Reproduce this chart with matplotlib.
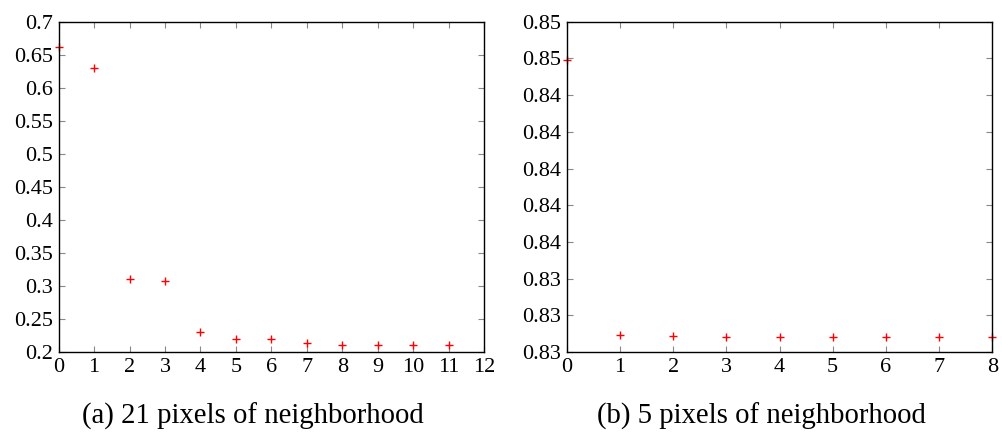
import matplotlib
matplotlib.use("Agg")
import matplotlib.pyplot as plt
from matplotlib.ticker import FixedLocator, FuncFormatter

plt.rcParams['font.family'] = 'serif'
plt.rcParams['font.serif'] = ['Liberation Serif', 'Times New Roman', 'DejaVu Serif']
plt.rcParams['mathtext.fontset'] = 'stix'

# Panel (a): 21 pixels of neighborhood
x_a = [0, 1, 2, 3, 4, 5, 6, 7, 8, 9, 10, 11]
y_a = [0.661, 0.630, 0.310, 0.308, 0.230, 0.219, 0.219, 0.213, 0.211, 0.211, 0.211, 0.211]
xticks_a = list(range(0, 13))
yticks_a = [0.2, 0.25, 0.3, 0.35, 0.4, 0.45, 0.5, 0.55, 0.6, 0.65, 0.7]
caption_a = "(a) 21 pixels of neighborhood"

# Panel (b): 5 pixels of neighborhood
x_b = [0, 1, 2, 3, 4, 5, 6, 7, 8]
y_b = [0.8459, 0.8309, 0.83086, 0.83084, 0.8308, 0.8308, 0.8308, 0.8308, 0.8308]
xticks_b = list(range(0, 9))
yticks_b = [0.830, 0.832, 0.834, 0.836, 0.838, 0.840, 0.842, 0.844, 0.846, 0.848]
caption_b = "(b) 5 pixels of neighborhood"

W, H = 1002, 434
fig = plt.figure(figsize=(W / 100, H / 100), dpi=100)

def box(l, t, r, b):
    return [l / W, 1 - b / H, (r - l) / W, (b - t) / H]

ax1 = fig.add_axes(box(58.7, 21.7, 484, 352))
ax2 = fig.add_axes(box(566.7, 21.7, 992.3, 352))

def style(ax):
    for s in ax.spines.values():
        s.set_color('black')
        s.set_linewidth(1.0)
    ax.tick_params(direction='in', length=4, width=0.8, color='#888888',
                   top=True, right=True, labelsize=16, pad=4)

# Panel a
ax1.plot(x_a, y_a, linestyle='none', marker='+', color='red',
         markersize=6, markeredgewidth=1.0, clip_on=False)
ax1.set_xlim(0, 12)
ax1.set_ylim(0.2, 0.7)
ax1.xaxis.set_major_locator(FixedLocator(xticks_a))
ax1.yaxis.set_major_locator(FixedLocator(yticks_a))
ax1.yaxis.set_major_formatter(FuncFormatter(lambda v, p: f"{round(v, 2):g}"))
style(ax1)

# Panel b
ax2.plot(x_b, y_b, linestyle='none', marker='+', color='red',
         markersize=6, markeredgewidth=1.0, clip_on=False)
ax2.set_xlim(0, 8)
ax2.set_ylim(0.830, 0.848)
ax2.xaxis.set_major_locator(FixedLocator(xticks_b))
ax2.yaxis.set_major_locator(FixedLocator(yticks_b))
ax2.yaxis.set_major_formatter(FuncFormatter(lambda v, p: f"{round(v + 1e-9, 2):.2f}"))
style(ax2)

fig.text(253 / W, 1 - 416 / H, caption_a, ha='center', va='center', fontsize=20.7)
fig.text(761 / W, 1 - 416 / H, caption_b, ha='center', va='center', fontsize=20.7)

fig.savefig("out.png", dpi=100)
